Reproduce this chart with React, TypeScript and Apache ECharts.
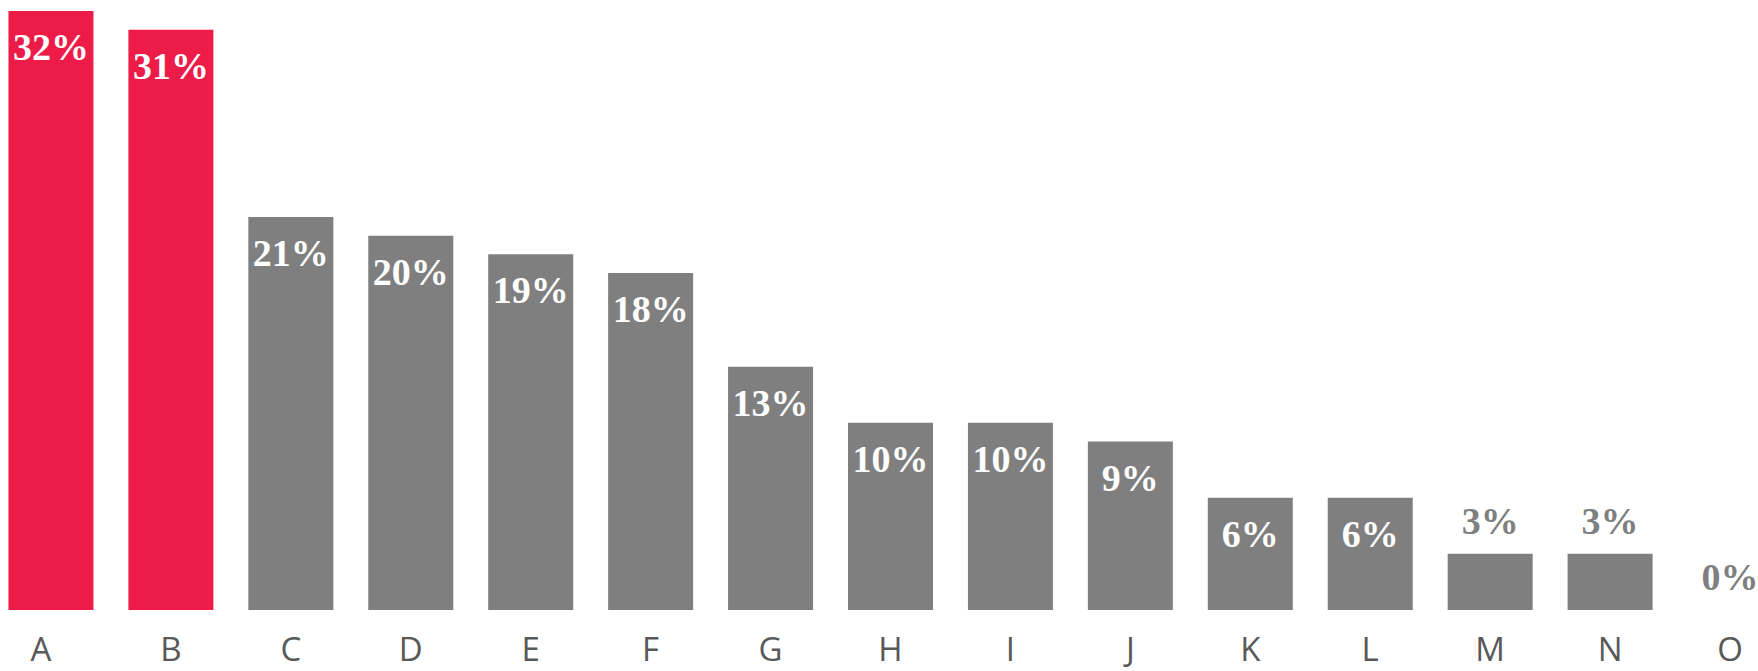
import React, { useEffect, useRef } from "react";
import * as echarts from "echarts";

const categories = ["A", "B", "C", "D", "E", "F", "G", "H", "I", "J", "K", "L", "M", "N", "O"];
const values = [32, 31, 21, 20, 19, 18, 13, 10, 10, 9, 6, 6, 3, 3, 0];
const highlighted = ["A", "B"];

const RED = "#ED1B47";
const GRAY = "#7F7F7F";

export default function App() {
  const ref = useRef<HTMLDivElement>(null);
  useEffect(() => {
    if (!ref.current) return;
    const chart = echarts.init(ref.current, undefined, { renderer: "svg" });
    const data = values.map((v, i) => {
      const small = v < 5;
      return {
        value: v,
        itemStyle: { color: highlighted.includes(categories[i]) ? RED : GRAY },
        label: small
          ? { position: "top", distance: 14, color: GRAY }
          : { position: "insideTop", distance: 17, color: "#FFFFFF" },
      };
    });
    const axisData = categories.map((c, i) =>
      i === 0 ? { value: c, textStyle: { padding: [0, 20, 0, 0] } } : c
    );
    chart.setOption({
      animation: false,
      grid: { left: -9, right: -32, top: 11, bottom: 61, outerBoundsMode: "none", containLabel: false },
      xAxis: {
        type: "category",
        data: axisData,
        axisLine: { show: false },
        axisTick: { show: false },
        axisLabel: {
          color: "#595959",
          fontSize: 33,
          lineHeight: 33,
          fontFamily: "Open Sans",
          margin: 22,
        },
      },
      yAxis: {
        type: "value",
        min: 0,
        max: 32,
        show: false,
        splitLine: { show: false },
      },
      series: [
        {
          type: "bar",
          data,
          barWidth: 85,
          label: {
            show: true,
            formatter: (p: any) => `${p.value}%`,
            fontFamily: "Liberation Serif",
            fontWeight: "bold",
            fontSize: 38,
            lineHeight: 38,
          },
        },
      ],
    });
    return () => chart.dispose();
  }, []);
  return (
    <div
      ref={ref}
      style={{ position: "absolute", left: 0, top: 0, width: 1758, height: 671, background: "#fff" }}
    />
  );
}
